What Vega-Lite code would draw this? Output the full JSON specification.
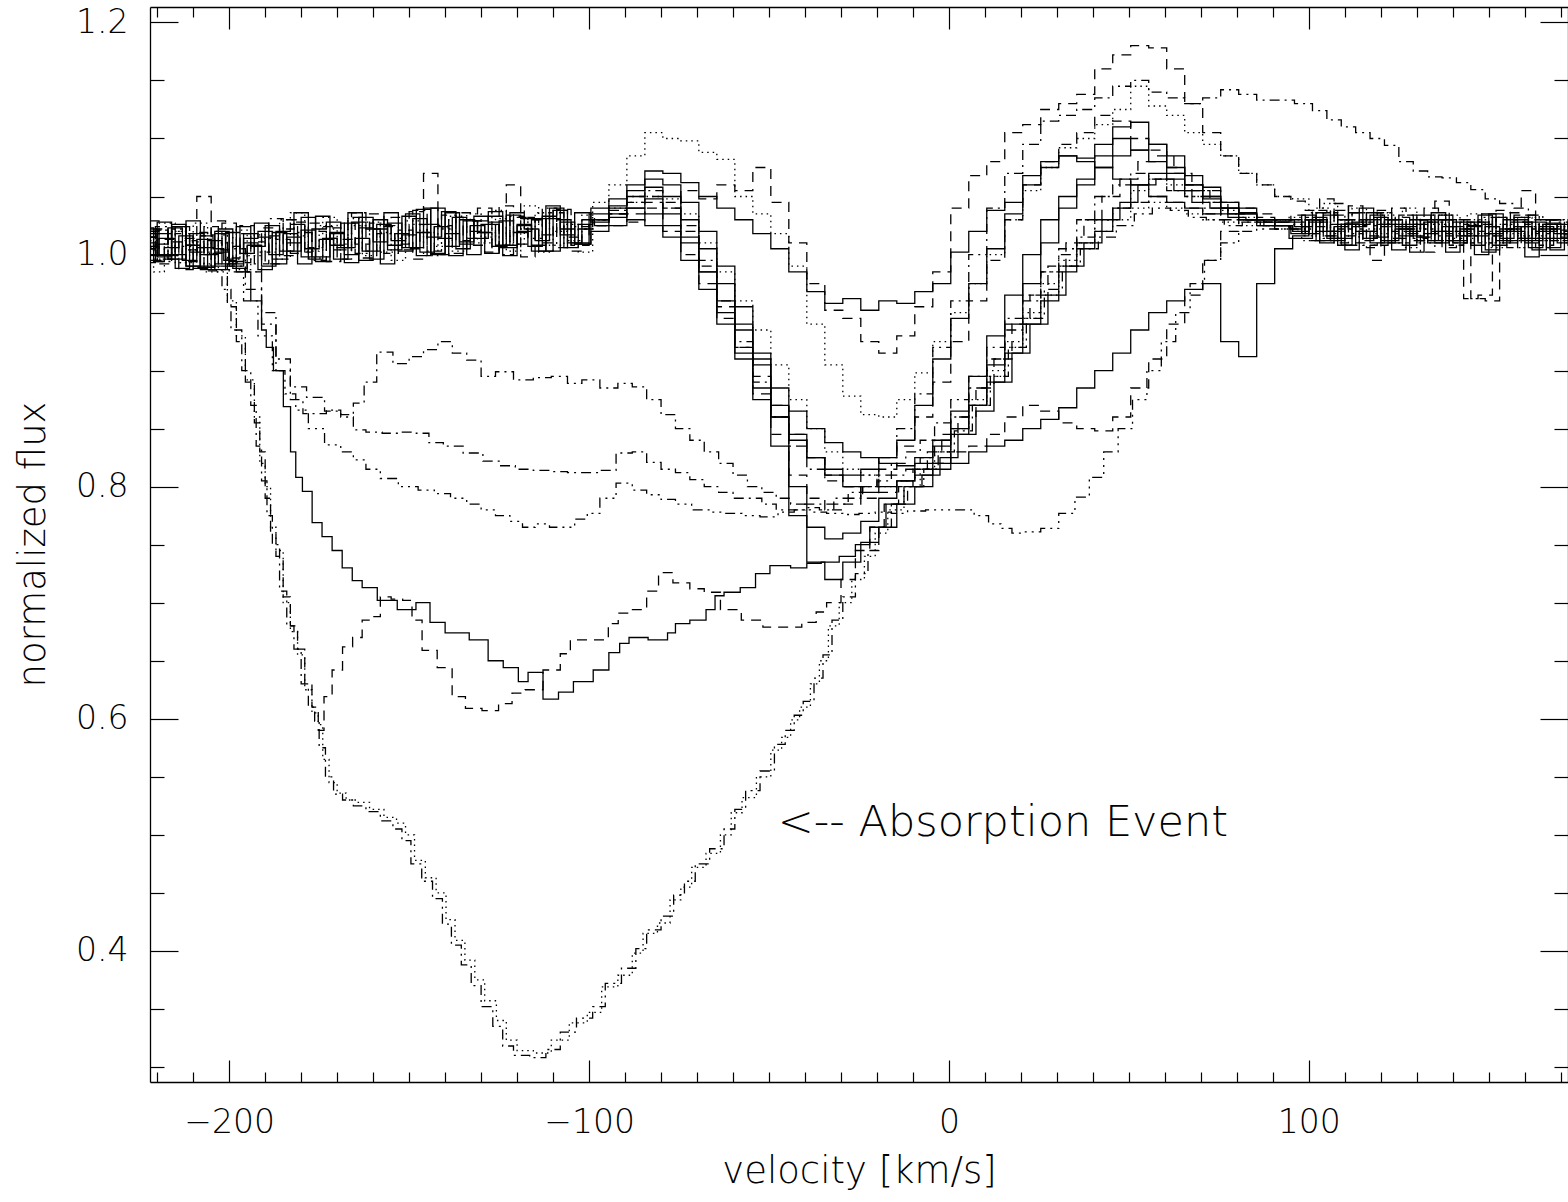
{
"$schema":"https://vega.github.io/schema/vega-lite/v6.json",
"width":1418,"height":1075,
"autosize":{"type":"none"},
"padding":{"left":150,"top":7,"right":0,"bottom":120},
"background":"#ffffff",
"config":{"view":{"stroke":null},
"axis":{"labelFont":"DejaVu Sans","labelFontWeight":200,"labelFontSize":33,"labelColor":"#000000","titleFont":"DejaVu Sans","titleFontWeight":200,"titleFontSize":37,"titleColor":"#000000","tickColor":"#000000","tickWidth":1.2,"domainColor":"#000000","domainWidth":1.3,"grid":false,"labelFlush":false,"labelOverlap":false,"labelBound":false}},
"datasets":{"spec":[
{"s":"p1","v":-222,"f":1.022},{"s":"p1","v":-218,"f":1.000},{"s":"p1","v":-214,"f":1.026},{"s":"p1","v":-210,"f":0.990},{"s":"p1","v":-206,"f":1.006},{"s":"p1","v":-202,"f":1.018},{"s":"p1","v":-198,"f":0.990},{"s":"p1","v":-194,"f":1.010},{"s":"p1","v":-190,"f":0.987},{"s":"p1","v":-186,"f":1.019},{"s":"p1","v":-182,"f":1.003},{"s":"p1","v":-178,"f":1.032},{"s":"p1","v":-174,"f":0.998},{"s":"p1","v":-170,"f":1.018},{"s":"p1","v":-166,"f":0.993},{"s":"p1","v":-162,"f":1.023},{"s":"p1","v":-158,"f":1.030},{"s":"p1","v":-154,"f":1.008},{"s":"p1","v":-150,"f":1.017},{"s":"p1","v":-146,"f":0.999},{"s":"p1","v":-142,"f":1.040},{"s":"p1","v":-138,"f":1.007},{"s":"p1","v":-134,"f":1.030},{"s":"p1","v":-130,"f":1.014},{"s":"p1","v":-126,"f":1.037},{"s":"p1","v":-122,"f":1.006},{"s":"p1","v":-118,"f":1.026},{"s":"p1","v":-114,"f":1.003},{"s":"p1","v":-110,"f":1.031},{"s":"p1","v":-106,"f":1.022},{"s":"p1","v":-102,"f":1.009},
{"s":"p1","v":-97,"f":1.040},{"s":"p1","v":-92,"f":1.048},{"s":"p1","v":-87,"f":1.060},{"s":"p1","v":-82,"f":1.072},{"s":"p1","v":-77,"f":1.070},{"s":"p1","v":-72,"f":1.062},{"s":"p1","v":-67,"f":1.050},{"s":"p1","v":-62,"f":1.040},{"s":"p1","v":-57,"f":1.030},{"s":"p1","v":-52,"f":1.018},{"s":"p1","v":-47,"f":1.005},{"s":"p1","v":-42,"f":0.985},{"s":"p1","v":-37,"f":0.968},{"s":"p1","v":-32,"f":0.958},{"s":"p1","v":-27,"f":0.962},{"s":"p1","v":-22,"f":0.952},{"s":"p1","v":-17,"f":0.960},{"s":"p1","v":-12,"f":0.958},{"s":"p1","v":-7,"f":0.968},{"s":"p1","v":-2,"f":0.975},{"s":"p1","v":3,"f":1.002},{"s":"p1","v":8,"f":1.020},{"s":"p1","v":13,"f":1.038},{"s":"p1","v":18,"f":1.045},{"s":"p1","v":23,"f":1.068},{"s":"p1","v":28,"f":1.080},{"s":"p1","v":33,"f":1.085},{"s":"p1","v":38,"f":1.083},{"s":"p1","v":43,"f":1.095},{"s":"p1","v":48,"f":1.110},{"s":"p1","v":53,"f":1.114},{"s":"p1","v":58,"f":1.095},{"s":"p1","v":63,"f":1.085},{"s":"p1","v":68,"f":1.068},{"s":"p1","v":73,"f":1.058},{"s":"p1","v":78,"f":1.045},{"s":"p1","v":83,"f":1.036},{"s":"p1","v":88,"f":1.030},{"s":"p1","v":93,"f":1.028},
{"s":"p1","v":96,"f":1.030},{"s":"p1","v":100,"f":1.018},{"s":"p1","v":104,"f":1.036},{"s":"p1","v":108,"f":1.012},{"s":"p1","v":112,"f":1.027},{"s":"p1","v":116,"f":1.040},{"s":"p1","v":120,"f":1.015},{"s":"p1","v":124,"f":1.030},{"s":"p1","v":128,"f":1.008},{"s":"p1","v":132,"f":1.034},{"s":"p1","v":136,"f":1.020},{"s":"p1","v":140,"f":1.002},{"s":"p1","v":144,"f":1.028},{"s":"p1","v":148,"f":1.016},{"s":"p1","v":152,"f":1.035},{"s":"p1","v":156,"f":1.010},{"s":"p1","v":160,"f":1.024},{"s":"p1","v":164,"f":1.004},{"s":"p1","v":168,"f":1.027},{"s":"p1","v":172,"f":1.015},{"s":"p1","v":176,"f":1.020},
{"s":"p2","v":-222,"f":1.023},{"s":"p2","v":-220,"f":0.995},{"s":"p2","v":-216,"f":1.013},{"s":"p2","v":-212,"f":0.987},{"s":"p2","v":-208,"f":1.019},{"s":"p2","v":-204,"f":1.001},{"s":"p2","v":-200,"f":1.027},{"s":"p2","v":-196,"f":0.993},{"s":"p2","v":-192,"f":1.011},{"s":"p2","v":-188,"f":0.992},{"s":"p2","v":-184,"f":1.022},{"s":"p2","v":-180,"f":1.028},{"s":"p2","v":-176,"f":1.006},{"s":"p2","v":-172,"f":1.014},{"s":"p2","v":-168,"f":0.996},{"s":"p2","v":-164,"f":1.036},{"s":"p2","v":-160,"f":1.003},{"s":"p2","v":-156,"f":1.025},{"s":"p2","v":-152,"f":1.009},{"s":"p2","v":-148,"f":1.037},{"s":"p2","v":-144,"f":1.070},{"s":"p2","v":-140,"f":1.025},{"s":"p2","v":-136,"f":1.001},{"s":"p2","v":-132,"f":1.029},{"s":"p2","v":-128,"f":1.019},{"s":"p2","v":-124,"f":1.007},{"s":"p2","v":-120,"f":1.033},{"s":"p2","v":-116,"f":1.030},{"s":"p2","v":-112,"f":1.010},{"s":"p2","v":-108,"f":1.038},{"s":"p2","v":-104,"f":1.003},{"s":"p2","v":-100,"f":1.022},
{"s":"p2","v":-97,"f":1.025},{"s":"p2","v":-92,"f":1.035},{"s":"p2","v":-87,"f":1.028},{"s":"p2","v":-82,"f":1.045},{"s":"p2","v":-77,"f":1.040},{"s":"p2","v":-72,"f":1.055},{"s":"p2","v":-67,"f":1.048},{"s":"p2","v":-62,"f":1.060},{"s":"p2","v":-57,"f":1.055},{"s":"p2","v":-52,"f":1.075},{"s":"p2","v":-47,"f":1.045},{"s":"p2","v":-42,"f":1.010},{"s":"p2","v":-37,"f":0.975},{"s":"p2","v":-32,"f":0.952},{"s":"p2","v":-27,"f":0.945},{"s":"p2","v":-22,"f":0.925},{"s":"p2","v":-17,"f":0.915},{"s":"p2","v":-12,"f":0.930},{"s":"p2","v":-7,"f":0.955},{"s":"p2","v":-2,"f":0.985},{"s":"p2","v":3,"f":1.040},{"s":"p2","v":8,"f":1.068},{"s":"p2","v":13,"f":1.080},{"s":"p2","v":18,"f":1.105},{"s":"p2","v":23,"f":1.112},{"s":"p2","v":28,"f":1.125},{"s":"p2","v":33,"f":1.130},{"s":"p2","v":38,"f":1.138},{"s":"p2","v":43,"f":1.160},{"s":"p2","v":48,"f":1.172},{"s":"p2","v":53,"f":1.180},{"s":"p2","v":58,"f":1.178},{"s":"p2","v":63,"f":1.160},{"s":"p2","v":68,"f":1.130},{"s":"p2","v":73,"f":1.105},{"s":"p2","v":78,"f":1.085},{"s":"p2","v":83,"f":1.070},{"s":"p2","v":88,"f":1.060},{"s":"p2","v":93,"f":1.050},
{"s":"p2","v":97,"f":1.046},{"s":"p2","v":101,"f":1.038},{"s":"p2","v":105,"f":1.048},{"s":"p2","v":109,"f":1.030},{"s":"p2","v":113,"f":1.042},{"s":"p2","v":117,"f":1.025},{"s":"p2","v":121,"f":1.038},{"s":"p2","v":125,"f":1.020},{"s":"p2","v":129,"f":1.034},{"s":"p2","v":133,"f":1.015},{"s":"p2","v":137,"f":1.030},{"s":"p2","v":141,"f":1.008},{"s":"p2","v":145,"f":0.962},{"s":"p2","v":149,"f":0.965},{"s":"p2","v":153,"f":1.032},{"s":"p2","v":157,"f":1.012},{"s":"p2","v":161,"f":1.028},{"s":"p2","v":165,"f":1.006},{"s":"p2","v":169,"f":1.022},{"s":"p2","v":173,"f":1.017},{"s":"p2","v":177,"f":1.020},
{"s":"p3","v":-222,"f":1.006},{"s":"p3","v":-217,"f":1.027},{"s":"p3","v":-213,"f":0.993},{"s":"p3","v":-209,"f":1.011},{"s":"p3","v":-205,"f":0.985},{"s":"p3","v":-201,"f":1.010},{"s":"p3","v":-197,"f":1.021},{"s":"p3","v":-193,"f":0.999},{"s":"p3","v":-189,"f":1.014},{"s":"p3","v":-185,"f":0.996},{"s":"p3","v":-181,"f":1.036},{"s":"p3","v":-177,"f":1.003},{"s":"p3","v":-173,"f":1.025},{"s":"p3","v":-169,"f":1.009},{"s":"p3","v":-165,"f":1.031},{"s":"p3","v":-161,"f":0.999},{"s":"p3","v":-157,"f":1.019},{"s":"p3","v":-153,"f":0.995},{"s":"p3","v":-149,"f":1.029},{"s":"p3","v":-145,"f":1.019},{"s":"p3","v":-141,"f":1.007},{"s":"p3","v":-137,"f":1.033},{"s":"p3","v":-133,"f":1.030},{"s":"p3","v":-129,"f":1.010},{"s":"p3","v":-125,"f":1.038},{"s":"p3","v":-121,"f":1.003},{"s":"p3","v":-117,"f":1.022},{"s":"p3","v":-113,"f":1.036},{"s":"p3","v":-109,"f":1.008},{"s":"p3","v":-105,"f":1.026},{"s":"p3","v":-101,"f":1.002},
{"s":"p3","v":-97,"f":1.045},{"s":"p3","v":-92,"f":1.060},{"s":"p3","v":-87,"f":1.085},{"s":"p3","v":-82,"f":1.105},{"s":"p3","v":-77,"f":1.100},{"s":"p3","v":-72,"f":1.098},{"s":"p3","v":-67,"f":1.088},{"s":"p3","v":-62,"f":1.082},{"s":"p3","v":-57,"f":1.050},{"s":"p3","v":-52,"f":1.035},{"s":"p3","v":-47,"f":1.018},{"s":"p3","v":-42,"f":0.990},{"s":"p3","v":-37,"f":0.940},{"s":"p3","v":-32,"f":0.905},{"s":"p3","v":-27,"f":0.878},{"s":"p3","v":-22,"f":0.862},{"s":"p3","v":-17,"f":0.860},{"s":"p3","v":-12,"f":0.875},{"s":"p3","v":-7,"f":0.898},{"s":"p3","v":-2,"f":0.925},{"s":"p3","v":3,"f":0.950},{"s":"p3","v":8,"f":0.975},{"s":"p3","v":13,"f":1.000},{"s":"p3","v":18,"f":1.030},{"s":"p3","v":23,"f":1.055},{"s":"p3","v":28,"f":1.075},{"s":"p3","v":33,"f":1.092},{"s":"p3","v":38,"f":1.100},{"s":"p3","v":43,"f":1.112},{"s":"p3","v":48,"f":1.125},{"s":"p3","v":53,"f":1.145},{"s":"p3","v":58,"f":1.128},{"s":"p3","v":63,"f":1.120},{"s":"p3","v":68,"f":1.105},{"s":"p3","v":73,"f":1.095},{"s":"p3","v":78,"f":1.085},{"s":"p3","v":83,"f":1.070},{"s":"p3","v":88,"f":1.060},{"s":"p3","v":93,"f":1.050},
{"s":"p3","v":98,"f":1.048},{"s":"p3","v":102,"f":1.036},{"s":"p3","v":106,"f":1.044},{"s":"p3","v":110,"f":1.030},{"s":"p3","v":114,"f":1.040},{"s":"p3","v":118,"f":1.022},{"s":"p3","v":122,"f":1.034},{"s":"p3","v":126,"f":1.018},{"s":"p3","v":130,"f":1.030},{"s":"p3","v":134,"f":1.012},{"s":"p3","v":138,"f":1.028},{"s":"p3","v":142,"f":1.020},{"s":"p3","v":146,"f":1.035},{"s":"p3","v":150,"f":1.010},{"s":"p3","v":154,"f":1.026},{"s":"p3","v":158,"f":1.018},{"s":"p3","v":162,"f":1.032},{"s":"p3","v":166,"f":1.012},{"s":"p3","v":170,"f":1.024},{"s":"p3","v":174,"f":1.016},{"s":"p3","v":178,"f":1.020},
{"s":"p4","v":-222,"f":1.015},{"s":"p4","v":-219,"f":1.021},{"s":"p4","v":-215,"f":0.999},{"s":"p4","v":-211,"f":1.007},{"s":"p4","v":-207,"f":0.989},{"s":"p4","v":-203,"f":1.029},{"s":"p4","v":-199,"f":0.996},{"s":"p4","v":-195,"f":1.018},{"s":"p4","v":-191,"f":1.002},{"s":"p4","v":-187,"f":1.031},{"s":"p4","v":-183,"f":0.999},{"s":"p4","v":-179,"f":1.019},{"s":"p4","v":-175,"f":0.995},{"s":"p4","v":-171,"f":1.023},{"s":"p4","v":-167,"f":1.013},{"s":"p4","v":-163,"f":1.001},{"s":"p4","v":-159,"f":1.027},{"s":"p4","v":-155,"f":1.024},{"s":"p4","v":-151,"f":1.004},{"s":"p4","v":-147,"f":1.038},{"s":"p4","v":-143,"f":1.003},{"s":"p4","v":-139,"f":1.022},{"s":"p4","v":-135,"f":1.036},{"s":"p4","v":-131,"f":1.008},{"s":"p4","v":-127,"f":1.026},{"s":"p4","v":-123,"f":1.000},{"s":"p4","v":-119,"f":1.032},{"s":"p4","v":-115,"f":1.014},{"s":"p4","v":-111,"f":1.040},{"s":"p4","v":-107,"f":1.006},{"s":"p4","v":-103,"f":1.024},
{"s":"p4","v":-97,"f":1.030},{"s":"p4","v":-92,"f":1.038},{"s":"p4","v":-87,"f":1.050},{"s":"p4","v":-82,"f":1.055},{"s":"p4","v":-77,"f":1.045},{"s":"p4","v":-72,"f":1.025},{"s":"p4","v":-67,"f":0.995},{"s":"p4","v":-62,"f":0.960},{"s":"p4","v":-57,"f":0.925},{"s":"p4","v":-52,"f":0.890},{"s":"p4","v":-47,"f":0.860},{"s":"p4","v":-42,"f":0.835},{"s":"p4","v":-37,"f":0.815},{"s":"p4","v":-32,"f":0.805},{"s":"p4","v":-27,"f":0.800},{"s":"p4","v":-22,"f":0.810},{"s":"p4","v":-17,"f":0.825},{"s":"p4","v":-12,"f":0.850},{"s":"p4","v":-7,"f":0.880},{"s":"p4","v":-2,"f":0.920},{"s":"p4","v":3,"f":0.960},{"s":"p4","v":8,"f":1.000},{"s":"p4","v":13,"f":1.040},{"s":"p4","v":18,"f":1.070},{"s":"p4","v":23,"f":1.095},{"s":"p4","v":28,"f":1.115},{"s":"p4","v":33,"f":1.120},{"s":"p4","v":38,"f":1.125},{"s":"p4","v":43,"f":1.135},{"s":"p4","v":48,"f":1.145},{"s":"p4","v":53,"f":1.150},{"s":"p4","v":58,"f":1.140},{"s":"p4","v":63,"f":1.135},{"s":"p4","v":68,"f":1.130},{"s":"p4","v":73,"f":1.135},{"s":"p4","v":78,"f":1.142},{"s":"p4","v":83,"f":1.138},{"s":"p4","v":88,"f":1.133},{"s":"p4","v":93,"f":1.133},
{"s":"p4","v":99,"f":1.130},{"s":"p4","v":103,"f":1.124},{"s":"p4","v":107,"f":1.116},{"s":"p4","v":111,"f":1.110},{"s":"p4","v":115,"f":1.105},{"s":"p4","v":119,"f":1.100},{"s":"p4","v":123,"f":1.094},{"s":"p4","v":127,"f":1.080},{"s":"p4","v":131,"f":1.072},{"s":"p4","v":135,"f":1.067},{"s":"p4","v":139,"f":1.066},{"s":"p4","v":143,"f":1.062},{"s":"p4","v":147,"f":1.056},{"s":"p4","v":151,"f":1.048},{"s":"p4","v":155,"f":1.044},{"s":"p4","v":159,"f":1.040},{"s":"p4","v":163,"f":1.034},{"s":"p4","v":167,"f":1.030},{"s":"p4","v":171,"f":1.028},{"s":"p4","v":175,"f":1.025},
{"s":"p5","v":-222,"f":1.020},{"s":"p5","v":-220,"f":0.994},{"s":"p5","v":-216,"f":1.006},{"s":"p5","v":-212,"f":1.016},{"s":"p5","v":-208,"f":0.988},{"s":"p5","v":-204,"f":1.012},{"s":"p5","v":-200,"f":0.992},{"s":"p5","v":-196,"f":1.024},{"s":"p5","v":-192,"f":1.007},{"s":"p5","v":-188,"f":1.025},{"s":"p5","v":-184,"f":1.003},{"s":"p5","v":-180,"f":1.036},{"s":"p5","v":-176,"f":0.996},{"s":"p5","v":-172,"f":1.014},{"s":"p5","v":-168,"f":1.006},{"s":"p5","v":-164,"f":1.028},{"s":"p5","v":-160,"f":1.022},{"s":"p5","v":-156,"f":0.992},{"s":"p5","v":-152,"f":1.018},{"s":"p5","v":-148,"f":1.006},{"s":"p5","v":-144,"f":1.040},{"s":"p5","v":-140,"f":1.014},{"s":"p5","v":-136,"f":1.032},{"s":"p5","v":-132,"f":1.000},{"s":"p5","v":-128,"f":1.026},{"s":"p5","v":-124,"f":1.008},{"s":"p5","v":-120,"f":1.036},{"s":"p5","v":-116,"f":1.022},{"s":"p5","v":-112,"f":1.003},{"s":"p5","v":-108,"f":1.038},{"s":"p5","v":-104,"f":1.010},{"s":"p5","v":-100,"f":1.030},
{"s":"p5","v":-97,"f":1.025},{"s":"p5","v":-92,"f":1.032},{"s":"p5","v":-87,"f":1.040},{"s":"p5","v":-82,"f":1.048},{"s":"p5","v":-77,"f":1.035},{"s":"p5","v":-72,"f":1.015},{"s":"p5","v":-67,"f":0.985},{"s":"p5","v":-62,"f":0.950},{"s":"p5","v":-57,"f":0.915},{"s":"p5","v":-52,"f":0.875},{"s":"p5","v":-47,"f":0.835},{"s":"p5","v":-42,"f":0.775},{"s":"p5","v":-37,"f":0.735},{"s":"p5","v":-32,"f":0.720},{"s":"p5","v":-27,"f":0.735},{"s":"p5","v":-22,"f":0.752},{"s":"p5","v":-17,"f":0.765},{"s":"p5","v":-12,"f":0.785},{"s":"p5","v":-7,"f":0.800},{"s":"p5","v":-2,"f":0.820},{"s":"p5","v":3,"f":0.845},{"s":"p5","v":8,"f":0.870},{"s":"p5","v":13,"f":0.905},{"s":"p5","v":18,"f":0.940},{"s":"p5","v":23,"f":0.975},{"s":"p5","v":28,"f":1.010},{"s":"p5","v":33,"f":1.040},{"s":"p5","v":38,"f":1.060},{"s":"p5","v":43,"f":1.085},{"s":"p5","v":48,"f":1.100},{"s":"p5","v":53,"f":1.090},{"s":"p5","v":58,"f":1.095},{"s":"p5","v":63,"f":1.075},{"s":"p5","v":68,"f":1.060},{"s":"p5","v":73,"f":1.050},{"s":"p5","v":78,"f":1.035},{"s":"p5","v":83,"f":1.040},{"s":"p5","v":88,"f":1.030},{"s":"p5","v":93,"f":1.025},
{"s":"p5","v":96,"f":1.022},{"s":"p5","v":100,"f":1.034},{"s":"p5","v":104,"f":1.012},{"s":"p5","v":108,"f":1.026},{"s":"p5","v":112,"f":1.004},{"s":"p5","v":116,"f":1.020},{"s":"p5","v":120,"f":1.032},{"s":"p5","v":124,"f":1.010},{"s":"p5","v":128,"f":1.026},{"s":"p5","v":132,"f":1.015},{"s":"p5","v":136,"f":1.036},{"s":"p5","v":140,"f":1.012},{"s":"p5","v":144,"f":1.022},{"s":"p5","v":148,"f":1.000},{"s":"p5","v":152,"f":1.018},{"s":"p5","v":156,"f":1.030},{"s":"p5","v":160,"f":1.014},{"s":"p5","v":164,"f":1.028},{"s":"p5","v":168,"f":1.006},{"s":"p5","v":172,"f":1.021},{"s":"p5","v":176,"f":1.018},
{"s":"p6","v":-222,"f":0.995},{"s":"p6","v":-219,"f":1.009},{"s":"p6","v":-215,"f":1.023},{"s":"p6","v":-211,"f":0.995},{"s":"p6","v":-207,"f":1.013},{"s":"p6","v":-203,"f":0.987},{"s":"p6","v":-199,"f":1.019},{"s":"p6","v":-195,"f":1.001},{"s":"p6","v":-191,"f":1.027},{"s":"p6","v":-187,"f":1.000},{"s":"p6","v":-183,"f":1.018},{"s":"p6","v":-179,"f":0.992},{"s":"p6","v":-175,"f":1.022},{"s":"p6","v":-171,"f":1.028},{"s":"p6","v":-167,"f":1.006},{"s":"p6","v":-163,"f":1.014},{"s":"p6","v":-159,"f":0.996},{"s":"p6","v":-155,"f":1.036},{"s":"p6","v":-151,"f":1.003},{"s":"p6","v":-147,"f":1.031},{"s":"p6","v":-143,"f":1.015},{"s":"p6","v":-139,"f":1.037},{"s":"p6","v":-135,"f":1.005},{"s":"p6","v":-131,"f":1.025},{"s":"p6","v":-127,"f":1.001},{"s":"p6","v":-123,"f":1.029},{"s":"p6","v":-119,"f":1.019},{"s":"p6","v":-115,"f":1.007},{"s":"p6","v":-111,"f":1.033},{"s":"p6","v":-107,"f":1.030},{"s":"p6","v":-103,"f":1.010},
{"s":"p6","v":-97,"f":1.035},{"s":"p6","v":-92,"f":1.042},{"s":"p6","v":-87,"f":1.055},{"s":"p6","v":-82,"f":1.065},{"s":"p6","v":-77,"f":1.060},{"s":"p6","v":-72,"f":1.045},{"s":"p6","v":-67,"f":1.020},{"s":"p6","v":-62,"f":0.990},{"s":"p6","v":-57,"f":0.955},{"s":"p6","v":-52,"f":0.915},{"s":"p6","v":-47,"f":0.860},{"s":"p6","v":-42,"f":0.800},{"s":"p6","v":-37,"f":0.765},{"s":"p6","v":-32,"f":0.755},{"s":"p6","v":-27,"f":0.760},{"s":"p6","v":-22,"f":0.770},{"s":"p6","v":-17,"f":0.790},{"s":"p6","v":-12,"f":0.805},{"s":"p6","v":-7,"f":0.820},{"s":"p6","v":-2,"f":0.835},{"s":"p6","v":3,"f":0.850},{"s":"p6","v":8,"f":0.870},{"s":"p6","v":13,"f":0.890},{"s":"p6","v":18,"f":0.915},{"s":"p6","v":23,"f":0.940},{"s":"p6","v":28,"f":0.960},{"s":"p6","v":33,"f":0.985},{"s":"p6","v":38,"f":1.005},{"s":"p6","v":43,"f":1.020},{"s":"p6","v":48,"f":1.040},{"s":"p6","v":53,"f":1.060},{"s":"p6","v":58,"f":1.070},{"s":"p6","v":63,"f":1.065},{"s":"p6","v":68,"f":1.055},{"s":"p6","v":73,"f":1.050},{"s":"p6","v":78,"f":1.040},{"s":"p6","v":83,"f":1.035},{"s":"p6","v":88,"f":1.028},{"s":"p6","v":93,"f":1.025},
{"s":"p6","v":97,"f":1.018},{"s":"p6","v":101,"f":1.030},{"s":"p6","v":105,"f":1.010},{"s":"p6","v":109,"f":1.024},{"s":"p6","v":113,"f":1.036},{"s":"p6","v":117,"f":1.014},{"s":"p6","v":121,"f":1.026},{"s":"p6","v":125,"f":1.004},{"s":"p6","v":129,"f":1.020},{"s":"p6","v":133,"f":1.030},{"s":"p6","v":137,"f":1.010},{"s":"p6","v":141,"f":1.024},{"s":"p6","v":145,"f":1.016},{"s":"p6","v":149,"f":1.034},{"s":"p6","v":153,"f":1.008},{"s":"p6","v":157,"f":1.022},{"s":"p6","v":161,"f":1.012},{"s":"p6","v":165,"f":1.030},{"s":"p6","v":169,"f":1.004},{"s":"p6","v":173,"f":1.020},{"s":"p6","v":177,"f":1.016},
{"s":"p7","v":-222,"f":1.007},{"s":"p7","v":-218,"f":1.018},{"s":"p7","v":-214,"f":0.996},{"s":"p7","v":-210,"f":1.029},{"s":"p7","v":-206,"f":0.989},{"s":"p7","v":-202,"f":1.002},{"s":"p7","v":-198,"f":0.994},{"s":"p7","v":-194,"f":1.018},{"s":"p7","v":-190,"f":1.015},{"s":"p7","v":-186,"f":0.992},{"s":"p7","v":-182,"f":1.015},{"s":"p7","v":-178,"f":0.998},{"s":"p7","v":-174,"f":1.033},{"s":"p7","v":-170,"f":1.008},{"s":"p7","v":-166,"f":1.027},{"s":"p7","v":-162,"f":0.995},{"s":"p7","v":-158,"f":1.022},{"s":"p7","v":-154,"f":1.004},{"s":"p7","v":-150,"f":1.033},{"s":"p7","v":-146,"f":1.019},{"s":"p7","v":-142,"f":1.001},{"s":"p7","v":-138,"f":1.036},{"s":"p7","v":-134,"f":1.009},{"s":"p7","v":-130,"f":1.029},{"s":"p7","v":-126,"f":1.033},{"s":"p7","v":-122,"f":1.008},{"s":"p7","v":-118,"f":1.020},{"s":"p7","v":-114,"f":1.031},{"s":"p7","v":-110,"f":1.003},{"s":"p7","v":-106,"f":1.028},{"s":"p7","v":-102,"f":1.009},
{"s":"p7","v":-97,"f":1.020},{"s":"p7","v":-92,"f":1.025},{"s":"p7","v":-87,"f":1.030},{"s":"p7","v":-82,"f":1.025},{"s":"p7","v":-77,"f":1.015},{"s":"p7","v":-72,"f":0.995},{"s":"p7","v":-67,"f":0.970},{"s":"p7","v":-62,"f":0.940},{"s":"p7","v":-57,"f":0.910},{"s":"p7","v":-52,"f":0.885},{"s":"p7","v":-47,"f":0.860},{"s":"p7","v":-42,"f":0.840},{"s":"p7","v":-37,"f":0.825},{"s":"p7","v":-32,"f":0.810},{"s":"p7","v":-27,"f":0.800},{"s":"p7","v":-22,"f":0.795},{"s":"p7","v":-17,"f":0.800},{"s":"p7","v":-12,"f":0.805},{"s":"p7","v":-7,"f":0.810},{"s":"p7","v":-2,"f":0.815},{"s":"p7","v":3,"f":0.820},{"s":"p7","v":8,"f":0.830},{"s":"p7","v":13,"f":0.835},{"s":"p7","v":18,"f":0.840},{"s":"p7","v":23,"f":0.850},{"s":"p7","v":28,"f":0.858},{"s":"p7","v":33,"f":0.868},{"s":"p7","v":38,"f":0.885},{"s":"p7","v":43,"f":0.900},{"s":"p7","v":48,"f":0.915},{"s":"p7","v":53,"f":0.935},{"s":"p7","v":58,"f":0.950},{"s":"p7","v":63,"f":0.960},{"s":"p7","v":68,"f":0.970},{"s":"p7","v":73,"f":0.975},{"s":"p7","v":78,"f":0.925},{"s":"p7","v":83,"f":0.912},{"s":"p7","v":88,"f":0.975},{"s":"p7","v":93,"f":1.005},
{"s":"p7","v":98,"f":1.016},{"s":"p7","v":102,"f":1.030},{"s":"p7","v":106,"f":1.020},{"s":"p7","v":110,"f":1.008},{"s":"p7","v":114,"f":1.028},{"s":"p7","v":118,"f":1.036},{"s":"p7","v":122,"f":1.012},{"s":"p7","v":126,"f":1.024},{"s":"p7","v":130,"f":1.002},{"s":"p7","v":134,"f":1.018},{"s":"p7","v":138,"f":1.030},{"s":"p7","v":142,"f":1.010},{"s":"p7","v":146,"f":1.025},{"s":"p7","v":150,"f":1.035},{"s":"p7","v":154,"f":1.012},{"s":"p7","v":158,"f":1.020},{"s":"p7","v":162,"f":0.998},{"s":"p7","v":166,"f":1.024},{"s":"p7","v":170,"f":1.014},{"s":"p7","v":174,"f":1.028},{"s":"p7","v":178,"f":1.018},
{"s":"p8","v":-222,"f":1.029},{"s":"p8","v":-217,"f":0.996},{"s":"p8","v":-213,"f":1.018},{"s":"p8","v":-209,"f":1.002},{"s":"p8","v":-205,"f":1.024},{"s":"p8","v":-201,"f":0.987},{"s":"p8","v":-197,"f":1.007},{"s":"p8","v":-193,"f":0.985},{"s":"p8","v":-189,"f":1.023},{"s":"p8","v":-185,"f":1.013},{"s":"p8","v":-181,"f":1.001},{"s":"p8","v":-177,"f":1.027},{"s":"p8","v":-173,"f":1.024},{"s":"p8","v":-169,"f":1.004},{"s":"p8","v":-165,"f":1.032},{"s":"p8","v":-161,"f":0.997},{"s":"p8","v":-157,"f":1.018},{"s":"p8","v":-153,"f":1.032},{"s":"p8","v":-149,"f":1.005},{"s":"p8","v":-145,"f":1.026},{"s":"p8","v":-141,"f":1.000},{"s":"p8","v":-137,"f":1.032},{"s":"p8","v":-133,"f":1.014},{"s":"p8","v":-129,"f":1.040},{"s":"p8","v":-125,"f":1.006},{"s":"p8","v":-121,"f":1.060},{"s":"p8","v":-117,"f":0.998},{"s":"p8","v":-113,"f":1.030},{"s":"p8","v":-109,"f":1.036},{"s":"p8","v":-105,"f":1.015},{"s":"p8","v":-101,"f":1.022},
{"s":"p8","v":-97,"f":1.030},{"s":"p8","v":-92,"f":1.025},{"s":"p8","v":-87,"f":1.035},{"s":"p8","v":-82,"f":1.040},{"s":"p8","v":-77,"f":1.020},{"s":"p8","v":-72,"f":1.000},{"s":"p8","v":-67,"f":0.975},{"s":"p8","v":-62,"f":0.945},{"s":"p8","v":-57,"f":0.920},{"s":"p8","v":-52,"f":0.895},{"s":"p8","v":-47,"f":0.870},{"s":"p8","v":-42,"f":0.845},{"s":"p8","v":-37,"f":0.825},{"s":"p8","v":-32,"f":0.810},{"s":"p8","v":-27,"f":0.800},{"s":"p8","v":-22,"f":0.790},{"s":"p8","v":-17,"f":0.795},{"s":"p8","v":-12,"f":0.805},{"s":"p8","v":-7,"f":0.815},{"s":"p8","v":-2,"f":0.820},{"s":"p8","v":3,"f":0.830},{"s":"p8","v":8,"f":0.835},{"s":"p8","v":13,"f":0.845},{"s":"p8","v":18,"f":0.860},{"s":"p8","v":23,"f":0.870},{"s":"p8","v":28,"f":0.865},{"s":"p8","v":33,"f":0.855},{"s":"p8","v":38,"f":0.850},{"s":"p8","v":43,"f":0.848},{"s":"p8","v":48,"f":0.860},{"s":"p8","v":53,"f":0.885},{"s":"p8","v":58,"f":0.910},{"s":"p8","v":63,"f":0.940},{"s":"p8","v":68,"f":0.965},{"s":"p8","v":73,"f":0.995},{"s":"p8","v":78,"f":1.020},{"s":"p8","v":83,"f":1.030},{"s":"p8","v":88,"f":1.035},{"s":"p8","v":93,"f":1.030},
{"s":"p8","v":99,"f":1.024},{"s":"p8","v":103,"f":1.038},{"s":"p8","v":107,"f":1.016},{"s":"p8","v":111,"f":1.030},{"s":"p8","v":115,"f":1.010},{"s":"p8","v":119,"f":0.995},{"s":"p8","v":123,"f":1.026},{"s":"p8","v":127,"f":1.034},{"s":"p8","v":131,"f":1.014},{"s":"p8","v":135,"f":1.028},{"s":"p8","v":139,"f":1.006},{"s":"p8","v":143,"f":1.022},{"s":"p8","v":147,"f":0.962},{"s":"p8","v":151,"f":0.960},{"s":"p8","v":155,"f":1.020},{"s":"p8","v":159,"f":1.034},{"s":"p8","v":163,"f":1.012},{"s":"p8","v":167,"f":1.026},{"s":"p8","v":171,"f":1.018},{"s":"p8","v":175,"f":1.022},
{"s":"p9","v":-222,"f":1.020},{"s":"p9","v":-220,"f":0.985},{"s":"p9","v":-216,"f":1.011},{"s":"p9","v":-212,"f":0.993},{"s":"p9","v":-208,"f":1.027},{"s":"p9","v":-204,"f":1.001},{"s":"p9","v":-200,"f":1.019},{"s":"p9","v":-196,"f":0.987},{"s":"p9","v":-192,"f":1.017},{"s":"p9","v":-188,"f":1.002},{"s":"p9","v":-184,"f":1.030},{"s":"p9","v":-180,"f":1.016},{"s":"p9","v":-176,"f":0.997},{"s":"p9","v":-172,"f":1.032},{"s":"p9","v":-168,"f":1.004},{"s":"p9","v":-164,"f":1.025},{"s":"p9","v":-160,"f":1.028},{"s":"p9","v":-156,"f":1.002},{"s":"p9","v":-152,"f":1.014},{"s":"p9","v":-148,"f":1.026},{"s":"p9","v":-144,"f":0.999},{"s":"p9","v":-140,"f":1.023},{"s":"p9","v":-136,"f":1.003},{"s":"p9","v":-132,"f":1.035},{"s":"p9","v":-128,"f":1.015},{"s":"p9","v":-124,"f":1.031},{"s":"p9","v":-120,"f":1.009},{"s":"p9","v":-116,"f":1.042},{"s":"p9","v":-112,"f":1.002},{"s":"p9","v":-108,"f":1.020},{"s":"p9","v":-104,"f":1.012},{"s":"p9","v":-100,"f":1.034},
{"s":"p9","v":-97,"f":1.030},{"s":"p9","v":-92,"f":1.040},{"s":"p9","v":-87,"f":1.045},{"s":"p9","v":-82,"f":1.050},{"s":"p9","v":-77,"f":1.048},{"s":"p9","v":-72,"f":1.035},{"s":"p9","v":-67,"f":1.010},{"s":"p9","v":-62,"f":0.985},{"s":"p9","v":-57,"f":0.960},{"s":"p9","v":-52,"f":0.935},{"s":"p9","v":-47,"f":0.905},{"s":"p9","v":-42,"f":0.875},{"s":"p9","v":-37,"f":0.850},{"s":"p9","v":-32,"f":0.830},{"s":"p9","v":-27,"f":0.815},{"s":"p9","v":-22,"f":0.810},{"s":"p9","v":-17,"f":0.800},{"s":"p9","v":-12,"f":0.805},{"s":"p9","v":-7,"f":0.815},{"s":"p9","v":-2,"f":0.830},{"s":"p9","v":3,"f":0.850},{"s":"p9","v":8,"f":0.870},{"s":"p9","v":13,"f":0.895},{"s":"p9","v":18,"f":0.920},{"s":"p9","v":23,"f":0.945},{"s":"p9","v":28,"f":0.965},{"s":"p9","v":33,"f":0.990},{"s":"p9","v":38,"f":1.010},{"s":"p9","v":43,"f":1.030},{"s":"p9","v":48,"f":1.040},{"s":"p9","v":53,"f":1.055},{"s":"p9","v":58,"f":1.065},{"s":"p9","v":63,"f":1.060},{"s":"p9","v":68,"f":1.050},{"s":"p9","v":73,"f":1.045},{"s":"p9","v":78,"f":1.038},{"s":"p9","v":83,"f":1.032},{"s":"p9","v":88,"f":1.028},{"s":"p9","v":93,"f":1.030},
{"s":"p9","v":96,"f":1.032},{"s":"p9","v":100,"f":1.022},{"s":"p9","v":104,"f":1.040},{"s":"p9","v":108,"f":1.018},{"s":"p9","v":112,"f":1.030},{"s":"p9","v":116,"f":1.014},{"s":"p9","v":120,"f":1.036},{"s":"p9","v":124,"f":1.024},{"s":"p9","v":128,"f":1.040},{"s":"p9","v":132,"f":1.010},{"s":"p9","v":136,"f":1.026},{"s":"p9","v":140,"f":1.034},{"s":"p9","v":144,"f":1.014},{"s":"p9","v":148,"f":1.028},{"s":"p9","v":152,"f":1.006},{"s":"p9","v":156,"f":1.022},{"s":"p9","v":160,"f":1.032},{"s":"p9","v":164,"f":1.016},{"s":"p9","v":168,"f":1.026},{"s":"p9","v":172,"f":1.010},{"s":"p9","v":176,"f":1.020},
{"s":"p10","v":-222,"f":0.993},{"s":"p10","v":-219,"f":1.021},{"s":"p10","v":-215,"f":1.011},{"s":"p10","v":-211,"f":0.994},{"s":"p10","v":-207,"f":1.050},{"s":"p10","v":-203,"f":1.017},{"s":"p10","v":-199,"f":0.997},{"s":"p10","v":-195,"f":1.025},{"s":"p10","v":-191,"f":0.992},{"s":"p10","v":-187,"f":1.016},{"s":"p10","v":-183,"f":1.030},{"s":"p10","v":-179,"f":1.002},{"s":"p10","v":-175,"f":1.020},{"s":"p10","v":-171,"f":0.994},{"s":"p10","v":-167,"f":1.027},{"s":"p10","v":-163,"f":1.009},{"s":"p10","v":-159,"f":1.035},{"s":"p10","v":-155,"f":1.001},{"s":"p10","v":-151,"f":1.021},{"s":"p10","v":-147,"f":0.996},{"s":"p10","v":-143,"f":1.026},{"s":"p10","v":-139,"f":1.034},{"s":"p10","v":-135,"f":1.012},{"s":"p10","v":-131,"f":1.020},{"s":"p10","v":-127,"f":1.002},{"s":"p10","v":-123,"f":1.042},{"s":"p10","v":-119,"f":1.009},{"s":"p10","v":-115,"f":1.032},{"s":"p10","v":-111,"f":1.017},{"s":"p10","v":-107,"f":1.039},{"s":"p10","v":-103,"f":1.008},
{"s":"p10","v":-97,"f":1.025},{"s":"p10","v":-92,"f":1.035},{"s":"p10","v":-87,"f":1.045},{"s":"p10","v":-82,"f":1.050},{"s":"p10","v":-77,"f":1.040},{"s":"p10","v":-72,"f":1.020},{"s":"p10","v":-67,"f":0.990},{"s":"p10","v":-62,"f":0.955},{"s":"p10","v":-57,"f":0.920},{"s":"p10","v":-52,"f":0.880},{"s":"p10","v":-47,"f":0.845},{"s":"p10","v":-42,"f":0.810},{"s":"p10","v":-37,"f":0.790},{"s":"p10","v":-32,"f":0.780},{"s":"p10","v":-27,"f":0.785},{"s":"p10","v":-22,"f":0.800},{"s":"p10","v":-17,"f":0.815},{"s":"p10","v":-12,"f":0.835},{"s":"p10","v":-7,"f":0.860},{"s":"p10","v":-2,"f":0.890},{"s":"p10","v":3,"f":0.925},{"s":"p10","v":8,"f":0.960},{"s":"p10","v":13,"f":0.995},{"s":"p10","v":18,"f":1.030},{"s":"p10","v":23,"f":1.060},{"s":"p10","v":28,"f":1.080},{"s":"p10","v":33,"f":1.095},{"s":"p10","v":38,"f":1.105},{"s":"p10","v":43,"f":1.120},{"s":"p10","v":48,"f":1.115},{"s":"p10","v":53,"f":1.100},{"s":"p10","v":58,"f":1.090},{"s":"p10","v":63,"f":1.075},{"s":"p10","v":68,"f":1.060},{"s":"p10","v":73,"f":1.055},{"s":"p10","v":78,"f":1.045},{"s":"p10","v":83,"f":1.040},{"s":"p10","v":88,"f":1.032},{"s":"p10","v":93,"f":1.030},
{"s":"p10","v":97,"f":1.034},{"s":"p10","v":101,"f":1.018},{"s":"p10","v":105,"f":1.028},{"s":"p10","v":109,"f":1.044},{"s":"p10","v":113,"f":1.022},{"s":"p10","v":117,"f":1.012},{"s":"p10","v":121,"f":1.032},{"s":"p10","v":125,"f":1.040},{"s":"p10","v":129,"f":1.018},{"s":"p10","v":133,"f":1.026},{"s":"p10","v":137,"f":1.046},{"s":"p10","v":141,"f":1.016},{"s":"p10","v":145,"f":1.030},{"s":"p10","v":149,"f":1.010},{"s":"p10","v":153,"f":1.024},{"s":"p10","v":157,"f":1.036},{"s":"p10","v":161,"f":1.055},{"s":"p10","v":165,"f":1.018},{"s":"p10","v":169,"f":1.030},{"s":"p10","v":173,"f":1.012},{"s":"p10","v":177,"f":1.025},
{"s":"p11","v":-222,"f":1.018},{"s":"p11","v":-218,"f":0.998},{"s":"p11","v":-214,"f":1.024},{"s":"p11","v":-210,"f":1.008},{"s":"p11","v":-206,"f":0.987},{"s":"p11","v":-202,"f":1.020},{"s":"p11","v":-198,"f":0.992},{"s":"p11","v":-194,"f":1.014},{"s":"p11","v":-190,"f":1.020},{"s":"p11","v":-186,"f":0.996},{"s":"p11","v":-182,"f":1.010},{"s":"p11","v":-178,"f":1.021},{"s":"p11","v":-174,"f":0.994},{"s":"p11","v":-170,"f":1.019},{"s":"p11","v":-166,"f":1.000},{"s":"p11","v":-162,"f":1.032},{"s":"p11","v":-158,"f":1.011},{"s":"p11","v":-154,"f":1.027},{"s":"p11","v":-150,"f":1.006},{"s":"p11","v":-146,"f":1.039},{"s":"p11","v":-142,"f":1.000},{"s":"p11","v":-138,"f":1.018},{"s":"p11","v":-134,"f":1.011},{"s":"p11","v":-130,"f":1.033},{"s":"p11","v":-126,"f":1.028},{"s":"p11","v":-122,"f":0.999},{"s":"p11","v":-118,"f":1.025},{"s":"p11","v":-114,"f":1.008},{"s":"p11","v":-110,"f":1.042},{"s":"p11","v":-106,"f":1.017},{"s":"p11","v":-102,"f":1.036},
{"s":"p11","v":-97,"f":1.028},{"s":"p11","v":-92,"f":1.035},{"s":"p11","v":-87,"f":1.040},{"s":"p11","v":-82,"f":1.035},{"s":"p11","v":-77,"f":1.025},{"s":"p11","v":-72,"f":1.010},{"s":"p11","v":-67,"f":0.985},{"s":"p11","v":-62,"f":0.960},{"s":"p11","v":-57,"f":0.935},{"s":"p11","v":-52,"f":0.910},{"s":"p11","v":-47,"f":0.885},{"s":"p11","v":-42,"f":0.865},{"s":"p11","v":-37,"f":0.850},{"s":"p11","v":-32,"f":0.838},{"s":"p11","v":-27,"f":0.830},{"s":"p11","v":-22,"f":0.825},{"s":"p11","v":-17,"f":0.820},{"s":"p11","v":-12,"f":0.818},{"s":"p11","v":-7,"f":0.825},{"s":"p11","v":-2,"f":0.840},{"s":"p11","v":3,"f":0.865},{"s":"p11","v":8,"f":0.895},{"s":"p11","v":13,"f":0.930},{"s":"p11","v":18,"f":0.965},{"s":"p11","v":23,"f":1.000},{"s":"p11","v":28,"f":1.030},{"s":"p11","v":33,"f":1.050},{"s":"p11","v":38,"f":1.065},{"s":"p11","v":43,"f":1.075},{"s":"p11","v":48,"f":1.085},{"s":"p11","v":53,"f":1.090},{"s":"p11","v":58,"f":1.080},{"s":"p11","v":63,"f":1.070},{"s":"p11","v":68,"f":1.060},{"s":"p11","v":73,"f":1.048},{"s":"p11","v":78,"f":1.040},{"s":"p11","v":83,"f":1.035},{"s":"p11","v":88,"f":1.030},{"s":"p11","v":93,"f":1.025},
{"s":"p11","v":98,"f":1.020},{"s":"p11","v":102,"f":1.028},{"s":"p11","v":106,"f":1.034},{"s":"p11","v":110,"f":1.014},{"s":"p11","v":114,"f":1.024},{"s":"p11","v":118,"f":1.030},{"s":"p11","v":122,"f":1.010},{"s":"p11","v":126,"f":1.022},{"s":"p11","v":130,"f":1.016},{"s":"p11","v":134,"f":1.028},{"s":"p11","v":138,"f":1.034},{"s":"p11","v":142,"f":1.012},{"s":"p11","v":146,"f":1.024},{"s":"p11","v":150,"f":1.002},{"s":"p11","v":154,"f":1.020},{"s":"p11","v":158,"f":1.028},{"s":"p11","v":162,"f":1.010},{"s":"p11","v":166,"f":1.022},{"s":"p11","v":170,"f":1.018},{"s":"p11","v":174,"f":1.008},{"s":"p11","v":178,"f":1.020},
{"s":"p12","v":-222,"f":1.000},{"s":"p12","v":-217,"f":1.014},{"s":"p12","v":-213,"f":0.988},{"s":"p12","v":-209,"f":1.018},{"s":"p12","v":-205,"f":1.000},{"s":"p12","v":-201,"f":1.022},{"s":"p12","v":-197,"f":0.988},{"s":"p12","v":-193,"f":1.008},{"s":"p12","v":-189,"f":0.990},{"s":"p12","v":-185,"f":1.020},{"s":"p12","v":-181,"f":1.026},{"s":"p12","v":-177,"f":1.005},{"s":"p12","v":-173,"f":1.013},{"s":"p12","v":-169,"f":0.996},{"s":"p12","v":-165,"f":1.036},{"s":"p12","v":-161,"f":1.003},{"s":"p12","v":-157,"f":1.026},{"s":"p12","v":-153,"f":1.012},{"s":"p12","v":-149,"f":1.035},{"s":"p12","v":-145,"f":1.002},{"s":"p12","v":-141,"f":1.024},{"s":"p12","v":-137,"f":0.999},{"s":"p12","v":-133,"f":1.029},{"s":"p12","v":-129,"f":1.019},{"s":"p12","v":-125,"f":1.007},{"s":"p12","v":-121,"f":1.034},{"s":"p12","v":-117,"f":1.031},{"s":"p12","v":-113,"f":1.012},{"s":"p12","v":-109,"f":1.040},{"s":"p12","v":-105,"f":1.006},{"s":"p12","v":-101,"f":1.026},
{"s":"p12","v":-97,"f":1.030},{"s":"p12","v":-92,"f":1.040},{"s":"p12","v":-87,"f":1.050},{"s":"p12","v":-82,"f":1.058},{"s":"p12","v":-77,"f":1.050},{"s":"p12","v":-72,"f":1.030},{"s":"p12","v":-67,"f":1.005},{"s":"p12","v":-62,"f":0.975},{"s":"p12","v":-57,"f":0.940},{"s":"p12","v":-52,"f":0.905},{"s":"p12","v":-47,"f":0.870},{"s":"p12","v":-42,"f":0.845},{"s":"p12","v":-37,"f":0.825},{"s":"p12","v":-32,"f":0.815},{"s":"p12","v":-27,"f":0.810},{"s":"p12","v":-22,"f":0.815},{"s":"p12","v":-17,"f":0.825},{"s":"p12","v":-12,"f":0.840},{"s":"p12","v":-7,"f":0.870},{"s":"p12","v":-2,"f":0.910},{"s":"p12","v":3,"f":0.945},{"s":"p12","v":8,"f":0.975},{"s":"p12","v":13,"f":1.005},{"s":"p12","v":18,"f":1.035},{"s":"p12","v":23,"f":1.060},{"s":"p12","v":28,"f":1.075},{"s":"p12","v":33,"f":1.085},{"s":"p12","v":38,"f":1.080},{"s":"p12","v":43,"f":1.075},{"s":"p12","v":48,"f":1.065},{"s":"p12","v":53,"f":1.060},{"s":"p12","v":58,"f":1.050},{"s":"p12","v":63,"f":1.045},{"s":"p12","v":68,"f":1.040},{"s":"p12","v":73,"f":1.035},{"s":"p12","v":78,"f":1.040},{"s":"p12","v":83,"f":1.030},{"s":"p12","v":88,"f":1.025},{"s":"p12","v":93,"f":1.028},
{"s":"p12","v":99,"f":1.024},{"s":"p12","v":103,"f":1.032},{"s":"p12","v":107,"f":1.014},{"s":"p12","v":111,"f":1.026},{"s":"p12","v":115,"f":1.020},{"s":"p12","v":119,"f":1.010},{"s":"p12","v":123,"f":1.030},{"s":"p12","v":127,"f":1.016},{"s":"p12","v":131,"f":1.026},{"s":"p12","v":135,"f":1.012},{"s":"p12","v":139,"f":1.030},{"s":"p12","v":143,"f":1.020},{"s":"p12","v":147,"f":1.008},{"s":"p12","v":151,"f":1.024},{"s":"p12","v":155,"f":1.014},{"s":"p12","v":159,"f":1.032},{"s":"p12","v":163,"f":1.006},{"s":"p12","v":167,"f":1.020},{"s":"p12","v":171,"f":1.026},{"s":"p12","v":175,"f":1.016},
{"s":"d1","v":-222,"f":1.012},{"s":"d1","v":-218,"f":0.996},{"s":"d1","v":-214,"f":1.020},{"s":"d1","v":-210,"f":1.004},{"s":"d1","v":-206,"f":0.992},{"s":"d1","v":-202,"f":0.985},{"s":"d1","v":-199,"f":0.960},{"s":"d1","v":-197,"f":0.930},{"s":"d1","v":-194,"f":0.892},{"s":"d1","v":-192,"f":0.860},{"s":"d1","v":-191,"f":0.820},{"s":"d1","v":-189,"f":0.800},{"s":"d1","v":-188,"f":0.765},{"s":"d1","v":-186,"f":0.745},{"s":"d1","v":-184,"f":0.700},{"s":"d1","v":-182,"f":0.675},{"s":"d1","v":-180,"f":0.655},{"s":"d1","v":-178,"f":0.625},{"s":"d1","v":-176,"f":0.605},{"s":"d1","v":-174.5,"f":0.595},{"s":"d1","v":-173.5,"f":0.565},{"s":"d1","v":-171,"f":0.545},{"s":"d1","v":-169,"f":0.536},{"s":"d1","v":-166,"f":0.530},{"s":"d1","v":-163,"f":0.528},{"s":"d1","v":-159,"f":0.522},{"s":"d1","v":-155,"f":0.515},{"s":"d1","v":-152,"f":0.510},{"s":"d1","v":-150,"f":0.500},{"s":"d1","v":-147,"f":0.478},{"s":"d1","v":-144,"f":0.463},{"s":"d1","v":-141,"f":0.450},{"s":"d1","v":-138.5,"f":0.427},{"s":"d1","v":-136,"f":0.409},{"s":"d1","v":-133,"f":0.392},{"s":"d1","v":-130.5,"f":0.375},{"s":"d1","v":-127.5,"f":0.357},{"s":"d1","v":-124,"f":0.340},{"s":"d1","v":-122,"f":0.323},{"s":"d1","v":-118,"f":0.314},{"s":"d1","v":-113,"f":0.312},{"s":"d1","v":-108,"f":0.323},{"s":"d1","v":-103,"f":0.338},{"s":"d1","v":-98,"f":0.347},{"s":"d1","v":-95,"f":0.369},{"s":"d1","v":-89,"f":0.379},{"s":"d1","v":-87,"f":0.398},{"s":"d1","v":-83,"f":0.415},{"s":"d1","v":-79,"f":0.424},{"s":"d1","v":-76,"f":0.444},{"s":"d1","v":-73,"f":0.455},{"s":"d1","v":-70,"f":0.472},{"s":"d1","v":-65,"f":0.484},{"s":"d1","v":-62,"f":0.500},{"s":"d1","v":-59,"f":0.519},{"s":"d1","v":-56,"f":0.532},{"s":"d1","v":-51,"f":0.550},{"s":"d1","v":-48,"f":0.573},{"s":"d1","v":-45,"f":0.584},{"s":"d1","v":-43,"f":0.599},{"s":"d1","v":-40,"f":0.610},{"s":"d1","v":-37,"f":0.630},{"s":"d1","v":-35,"f":0.650},{"s":"d1","v":-32,"f":0.680},{"s":"d1","v":-29,"f":0.700},{"s":"d1","v":-25,"f":0.720},{"s":"d1","v":-22,"f":0.740},{"s":"d1","v":-19,"f":0.760},{"s":"d1","v":-15,"f":0.780},{"s":"d1","v":-10,"f":0.800},{"s":"d1","v":-6,"f":0.815},{"s":"d1","v":-2,"f":0.830},{"s":"d1","v":3,"f":0.850},{"s":"d1","v":8,"f":0.875},{"s":"d1","v":13,"f":0.900},{"s":"d1","v":18,"f":0.925},{"s":"d1","v":23,"f":0.950},{"s":"d1","v":28,"f":0.975},{"s":"d1","v":33,"f":0.995},{"s":"d1","v":38,"f":1.010},{"s":"d1","v":43,"f":1.020},{"s":"d1","v":48,"f":1.030},{"s":"d1","v":53,"f":1.040},{"s":"d1","v":58,"f":1.045},{"s":"d1","v":63,"f":1.040},{"s":"d1","v":68,"f":1.035},{"s":"d1","v":73,"f":1.030},{"s":"d1","v":78,"f":1.028},{"s":"d1","v":83,"f":1.025},{"s":"d1","v":88,"f":1.025},{"s":"d1","v":93,"f":1.022},
{"s":"d1","v":96,"f":1.024},{"s":"d1","v":100,"f":1.012},{"s":"d1","v":104,"f":1.030},{"s":"d1","v":108,"f":1.020},{"s":"d1","v":112,"f":1.008},{"s":"d1","v":116,"f":1.026},{"s":"d1","v":120,"f":1.018},{"s":"d1","v":124,"f":1.030},{"s":"d1","v":128,"f":1.006},{"s":"d1","v":132,"f":1.022},{"s":"d1","v":136,"f":1.034},{"s":"d1","v":140,"f":1.014},{"s":"d1","v":144,"f":1.020},{"s":"d1","v":148,"f":1.030},{"s":"d1","v":152,"f":1.010},{"s":"d1","v":156,"f":1.022},{"s":"d1","v":160,"f":1.016},{"s":"d1","v":164,"f":1.030},{"s":"d1","v":168,"f":1.012},{"s":"d1","v":172,"f":1.020},{"s":"d1","v":176,"f":1.018},
{"s":"d2","v":-222,"f":1.005},{"s":"d2","v":-219,"f":1.022},{"s":"d2","v":-215,"f":0.996},{"s":"d2","v":-211,"f":1.012},{"s":"d2","v":-207,"f":1.000},{"s":"d2","v":-203,"f":0.990},{"s":"d2","v":-201,"f":0.970},{"s":"d2","v":-198,"f":0.935},{"s":"d2","v":-195,"f":0.900},{"s":"d2","v":-193,"f":0.870},{"s":"d2","v":-192,"f":0.835},{"s":"d2","v":-190,"f":0.805},{"s":"d2","v":-189,"f":0.775},{"s":"d2","v":-187,"f":0.750},{"s":"d2","v":-185,"f":0.710},{"s":"d2","v":-183,"f":0.680},{"s":"d2","v":-181,"f":0.660},{"s":"d2","v":-179,"f":0.630},{"s":"d2","v":-177,"f":0.610},{"s":"d2","v":-175.5,"f":0.598},{"s":"d2","v":-174.5,"f":0.575},{"s":"d2","v":-172,"f":0.550},{"s":"d2","v":-170,"f":0.535},{"s":"d2","v":-167,"f":0.530},{"s":"d2","v":-164,"f":0.525},{"s":"d2","v":-160,"f":0.520},{"s":"d2","v":-156,"f":0.512},{"s":"d2","v":-153,"f":0.505},{"s":"d2","v":-151,"f":0.495},{"s":"d2","v":-148,"f":0.475},{"s":"d2","v":-145,"f":0.460},{"s":"d2","v":-142,"f":0.445},{"s":"d2","v":-139.5,"f":0.423},{"s":"d2","v":-137,"f":0.405},{"s":"d2","v":-134,"f":0.388},{"s":"d2","v":-131.5,"f":0.370},{"s":"d2","v":-128.5,"f":0.352},{"s":"d2","v":-125,"f":0.335},{"s":"d2","v":-123,"f":0.318},{"s":"d2","v":-119,"f":0.310},{"s":"d2","v":-114,"f":0.308},{"s":"d2","v":-110,"f":0.315},{"s":"d2","v":-106,"f":0.330},{"s":"d2","v":-101,"f":0.342},{"s":"d2","v":-97,"f":0.352},{"s":"d2","v":-94,"f":0.372},{"s":"d2","v":-88,"f":0.385},{"s":"d2","v":-86,"f":0.402},{"s":"d2","v":-82,"f":0.418},{"s":"d2","v":-78,"f":0.430},{"s":"d2","v":-75,"f":0.448},{"s":"d2","v":-72,"f":0.460},{"s":"d2","v":-69,"f":0.475},{"s":"d2","v":-64,"f":0.488},{"s":"d2","v":-61,"f":0.505},{"s":"d2","v":-58,"f":0.522},{"s":"d2","v":-55,"f":0.538},{"s":"d2","v":-50,"f":0.555},{"s":"d2","v":-47,"f":0.578},{"s":"d2","v":-44,"f":0.590},{"s":"d2","v":-42,"f":0.603},{"s":"d2","v":-39,"f":0.615},{"s":"d2","v":-36,"f":0.635},{"s":"d2","v":-34,"f":0.655},{"s":"d2","v":-31,"f":0.685},{"s":"d2","v":-28,"f":0.705},{"s":"d2","v":-24,"f":0.725},{"s":"d2","v":-21,"f":0.745},{"s":"d2","v":-18,"f":0.765},{"s":"d2","v":-14,"f":0.785},{"s":"d2","v":-9,"f":0.800},{"s":"d2","v":-5,"f":0.815},{"s":"d2","v":-1,"f":0.830},{"s":"d2","v":4,"f":0.848},{"s":"d2","v":9,"f":0.870},{"s":"d2","v":14,"f":0.895},{"s":"d2","v":19,"f":0.920},{"s":"d2","v":24,"f":0.945},{"s":"d2","v":29,"f":0.970},{"s":"d2","v":34,"f":0.990},{"s":"d2","v":39,"f":1.005},{"s":"d2","v":44,"f":1.015},{"s":"d2","v":49,"f":1.025},{"s":"d2","v":54,"f":1.035},{"s":"d2","v":59,"f":1.040},{"s":"d2","v":64,"f":1.038},{"s":"d2","v":69,"f":1.032},{"s":"d2","v":74,"f":1.030},{"s":"d2","v":79,"f":1.025},{"s":"d2","v":84,"f":1.028},{"s":"d2","v":89,"f":1.022},{"s":"d2","v":94,"f":1.025},
{"s":"d2","v":97,"f":1.020},{"s":"d2","v":101,"f":1.030},{"s":"d2","v":105,"f":1.012},{"s":"d2","v":109,"f":1.034},{"s":"d2","v":113,"f":1.018},{"s":"d2","v":117,"f":1.008},{"s":"d2","v":121,"f":1.028},{"s":"d2","v":125,"f":1.014},{"s":"d2","v":129,"f":1.024},{"s":"d2","v":133,"f":1.002},{"s":"d2","v":137,"f":1.020},{"s":"d2","v":141,"f":1.030},{"s":"d2","v":145,"f":1.010},{"s":"d2","v":149,"f":1.026},{"s":"d2","v":153,"f":1.016},{"s":"d2","v":157,"f":1.006},{"s":"d2","v":161,"f":1.028},{"s":"d2","v":165,"f":1.020},{"s":"d2","v":169,"f":1.012},{"s":"d2","v":173,"f":1.024},{"s":"d2","v":177,"f":1.020},
{"s":"c3","v":-222,"f":1.020},{"s":"c3","v":-217,"f":1.000},{"s":"c3","v":-213,"f":1.024},{"s":"c3","v":-209,"f":1.006},{"s":"c3","v":-205,"f":0.986},{"s":"c3","v":-202,"f":0.990},{"s":"c3","v":-199,"f":0.955},{"s":"c3","v":-197,"f":0.925},{"s":"c3","v":-194,"f":0.890},{"s":"c3","v":-192,"f":0.855},{"s":"c3","v":-191,"f":0.830},{"s":"c3","v":-189,"f":0.790},{"s":"c3","v":-188,"f":0.760},{"s":"c3","v":-186,"f":0.740},{"s":"c3","v":-184,"f":0.705},{"s":"c3","v":-182,"f":0.680},{"s":"c3","v":-180,"f":0.660},{"s":"c3","v":-178,"f":0.630},{"s":"c3","v":-176,"f":0.610},{"s":"c3","v":-174.5,"f":0.590},{"s":"c3","v":-172.8,"f":0.619},{"s":"c3","v":-170,"f":0.642},{"s":"c3","v":-167,"f":0.662},{"s":"c3","v":-164.4,"f":0.670},{"s":"c3","v":-161.7,"f":0.685},{"s":"c3","v":-159,"f":0.688},{"s":"c3","v":-157,"f":0.705},{"s":"c3","v":-153,"f":0.703},{"s":"c3","v":-150.6,"f":0.702},{"s":"c3","v":-147.8,"f":0.685},{"s":"c3","v":-145,"f":0.659},{"s":"c3","v":-139.4,"f":0.644},{"s":"c3","v":-136.7,"f":0.619},{"s":"c3","v":-132,"f":0.609},{"s":"c3","v":-127.5,"f":0.607},{"s":"c3","v":-122.8,"f":0.613},{"s":"c3","v":-120,"f":0.622},{"s":"c3","v":-115.6,"f":0.625},{"s":"c3","v":-110,"f":0.642},{"s":"c3","v":-106,"f":0.656},{"s":"c3","v":-104.4,"f":0.668},{"s":"c3","v":-96,"f":0.668},{"s":"c3","v":-93.3,"f":0.682},{"s":"c3","v":-90.5,"f":0.691},{"s":"c3","v":-86,"f":0.694},{"s":"c3","v":-82,"f":0.710},{"s":"c3","v":-79.4,"f":0.726},{"s":"c3","v":-74,"f":0.717},{"s":"c3","v":-70,"f":0.712},{"s":"c3","v":-66,"f":0.709},{"s":"c3","v":-61,"f":0.694},{"s":"c3","v":-54.4,"f":0.685},{"s":"c3","v":-49,"f":0.679},{"s":"c3","v":-44,"f":0.679},{"s":"c3","v":-37.8,"f":0.683},{"s":"c3","v":-36,"f":0.692},{"s":"c3","v":-32,"f":0.700},{"s":"c3","v":-28,"f":0.720},{"s":"c3","v":-24,"f":0.745},{"s":"c3","v":-20,"f":0.765},{"s":"c3","v":-16,"f":0.785},{"s":"c3","v":-12,"f":0.800},{"s":"c3","v":-8,"f":0.815},{"s":"c3","v":-4,"f":0.830},{"s":"c3","v":0,"f":0.845},{"s":"c3","v":5,"f":0.860},{"s":"c3","v":10,"f":0.885},{"s":"c3","v":15,"f":0.910},{"s":"c3","v":20,"f":0.940},{"s":"c3","v":25,"f":0.965},{"s":"c3","v":30,"f":0.990},{"s":"c3","v":35,"f":1.010},{"s":"c3","v":40,"f":1.030},{"s":"c3","v":45,"f":1.050},{"s":"c3","v":50,"f":1.065},{"s":"c3","v":55,"f":1.080},{"s":"c3","v":60,"f":1.085},{"s":"c3","v":65,"f":1.070},{"s":"c3","v":70,"f":1.055},{"s":"c3","v":75,"f":1.045},{"s":"c3","v":80,"f":1.035},{"s":"c3","v":85,"f":1.030},{"s":"c3","v":90,"f":1.028},
{"s":"c3","v":98,"f":1.028},{"s":"c3","v":102,"f":1.012},{"s":"c3","v":106,"f":1.036},{"s":"c3","v":110,"f":1.022},{"s":"c3","v":114,"f":1.030},{"s":"c3","v":118,"f":1.006},{"s":"c3","v":122,"f":1.024},{"s":"c3","v":126,"f":1.032},{"s":"c3","v":130,"f":1.012},{"s":"c3","v":134,"f":1.040},{"s":"c3","v":138,"f":1.020},{"s":"c3","v":142,"f":1.010},{"s":"c3","v":146,"f":1.028},{"s":"c3","v":150,"f":1.018},{"s":"c3","v":154,"f":1.038},{"s":"c3","v":158,"f":1.014},{"s":"c3","v":162,"f":1.026},{"s":"c3","v":166,"f":1.008},{"s":"c3","v":170,"f":1.022},{"s":"c3","v":174,"f":1.030},{"s":"c3","v":178,"f":1.020},
{"s":"c2","v":-222,"f":1.015},{"s":"c2","v":-218,"f":1.028},{"s":"c2","v":-214,"f":1.000},{"s":"c2","v":-210,"f":0.990},{"s":"c2","v":-206,"f":1.016},{"s":"c2","v":-203,"f":1.005},{"s":"c2","v":-200,"f":0.995},{"s":"c2","v":-196,"f":0.985},{"s":"c2","v":-192,"f":0.960},{"s":"c2","v":-190,"f":0.935},{"s":"c2","v":-189.4,"f":0.920},{"s":"c2","v":-186,"f":0.900},{"s":"c2","v":-183.9,"f":0.869},{"s":"c2","v":-182,"f":0.830},{"s":"c2","v":-181,"f":0.808},{"s":"c2","v":-178.3,"f":0.796},{"s":"c2","v":-175.6,"f":0.769},{"s":"c2","v":-172.8,"f":0.757},{"s":"c2","v":-170,"f":0.745},{"s":"c2","v":-167.2,"f":0.730},{"s":"c2","v":-164.4,"f":0.719},{"s":"c2","v":-161.7,"f":0.713},{"s":"c2","v":-156,"f":0.702},{"s":"c2","v":-150.6,"f":0.694},{"s":"c2","v":-145.6,"f":0.700},{"s":"c2","v":-142.8,"f":0.683},{"s":"c2","v":-137.2,"f":0.674},{"s":"c2","v":-129.4,"f":0.668},{"s":"c2","v":-126.7,"f":0.650},{"s":"c2","v":-121,"f":0.644},{"s":"c2","v":-118.3,"f":0.632},{"s":"c2","v":-115.6,"f":0.640},{"s":"c2","v":-110,"f":0.617},{"s":"c2","v":-107,"f":0.623},{"s":"c2","v":-101.7,"f":0.632},{"s":"c2","v":-96,"f":0.642},{"s":"c2","v":-93,"f":0.657},{"s":"c2","v":-90,"f":0.665},{"s":"c2","v":-87.8,"f":0.670},{"s":"c2","v":-79.4,"f":0.668},{"s":"c2","v":-77,"f":0.674},{"s":"c2","v":-75,"f":0.682},{"s":"c2","v":-69,"f":0.685},{"s":"c2","v":-66,"f":0.694},{"s":"c2","v":-64,"f":0.706},{"s":"c2","v":-61,"f":0.709},{"s":"c2","v":-55,"f":0.713},{"s":"c2","v":-52.5,"f":0.725},{"s":"c2","v":-47,"f":0.732},{"s":"c2","v":-41,"f":0.730},{"s":"c2","v":-38,"f":0.734},{"s":"c2","v":-33,"f":0.735},{"s":"c2","v":-28,"f":0.740},{"s":"c2","v":-24,"f":0.750},{"s":"c2","v":-20,"f":0.765},{"s":"c2","v":-15,"f":0.785},{"s":"c2","v":-10,"f":0.800},{"s":"c2","v":-5,"f":0.810},{"s":"c2","v":0,"f":0.825},{"s":"c2","v":5,"f":0.845},{"s":"c2","v":10,"f":0.865},{"s":"c2","v":15,"f":0.890},{"s":"c2","v":20,"f":0.915},{"s":"c2","v":25,"f":0.940},{"s":"c2","v":30,"f":0.965},{"s":"c2","v":35,"f":0.990},{"s":"c2","v":40,"f":1.010},{"s":"c2","v":45,"f":1.030},{"s":"c2","v":50,"f":1.045},{"s":"c2","v":55,"f":1.060},{"s":"c2","v":60,"f":1.065},{"s":"c2","v":65,"f":1.055},{"s":"c2","v":70,"f":1.045},{"s":"c2","v":75,"f":1.040},{"s":"c2","v":80,"f":1.032},{"s":"c2","v":85,"f":1.030},{"s":"c2","v":90,"f":1.025},
{"s":"c2","v":99,"f":1.014},{"s":"c2","v":103,"f":1.030},{"s":"c2","v":107,"f":1.020},{"s":"c2","v":111,"f":1.008},{"s":"c2","v":115,"f":1.026},{"s":"c2","v":119,"f":1.034},{"s":"c2","v":123,"f":1.012},{"s":"c2","v":127,"f":1.022},{"s":"c2","v":131,"f":1.030},{"s":"c2","v":135,"f":1.010},{"s":"c2","v":139,"f":1.024},{"s":"c2","v":143,"f":1.016},{"s":"c2","v":147,"f":1.028},{"s":"c2","v":151,"f":1.004},{"s":"c2","v":155,"f":1.022},{"s":"c2","v":159,"f":1.030},{"s":"c2","v":163,"f":1.014},{"s":"c2","v":167,"f":1.026},{"s":"c2","v":171,"f":1.010},{"s":"c2","v":175,"f":1.020},
{"s":"e1","v":-222,"f":1.015},{"s":"e1","v":-218,"f":0.992},{"s":"e1","v":-214,"f":1.020},{"s":"e1","v":-210,"f":1.008},{"s":"e1","v":-206,"f":0.990},{"s":"e1","v":-202,"f":1.004},{"s":"e1","v":-198,"f":0.985},{"s":"e1","v":-194,"f":0.960},{"s":"e1","v":-190,"f":0.930},{"s":"e1","v":-186,"f":0.900},{"s":"e1","v":-183,"f":0.880},{"s":"e1","v":-180,"f":0.866},{"s":"e1","v":-176,"f":0.850},{"s":"e1","v":-171,"f":0.836},{"s":"e1","v":-167,"f":0.830},{"s":"e1","v":-164,"f":0.823},{"s":"e1","v":-160,"f":0.815},{"s":"e1","v":-156,"f":0.807},{"s":"e1","v":-150,"f":0.800},{"s":"e1","v":-145,"f":0.797},{"s":"e1","v":-141,"f":0.794},{"s":"e1","v":-136,"f":0.790},{"s":"e1","v":-132,"f":0.785},{"s":"e1","v":-128,"f":0.780},{"s":"e1","v":-124,"f":0.775},{"s":"e1","v":-120,"f":0.770},{"s":"e1","v":-117,"f":0.765},{"s":"e1","v":-113,"f":0.768},{"s":"e1","v":-109,"f":0.765},{"s":"e1","v":-106,"f":0.765},{"s":"e1","v":-102,"f":0.772},{"s":"e1","v":-99,"f":0.777},{"s":"e1","v":-95,"f":0.790},{"s":"e1","v":-90,"f":0.803},{"s":"e1","v":-86,"f":0.797},{"s":"e1","v":-82,"f":0.793},{"s":"e1","v":-78,"f":0.789},{"s":"e1","v":-74,"f":0.785},{"s":"e1","v":-69,"f":0.780},{"s":"e1","v":-64,"f":0.778},{"s":"e1","v":-60,"f":0.777},{"s":"e1","v":-55,"f":0.775},{"s":"e1","v":-50,"f":0.774},{"s":"e1","v":-45,"f":0.778},{"s":"e1","v":-41,"f":0.780},{"s":"e1","v":-36,"f":0.778},{"s":"e1","v":-32,"f":0.777},{"s":"e1","v":-27,"f":0.776},{"s":"e1","v":-23,"f":0.777},{"s":"e1","v":-18,"f":0.778},{"s":"e1","v":-14,"f":0.777},{"s":"e1","v":-9,"f":0.779},{"s":"e1","v":-4,"f":0.780},{"s":"e1","v":1,"f":0.780},{"s":"e1","v":5,"f":0.780},{"s":"e1","v":9,"f":0.775},{"s":"e1","v":13,"f":0.768},{"s":"e1","v":16,"f":0.764},{"s":"e1","v":19,"f":0.760},{"s":"e1","v":23,"f":0.761},{"s":"e1","v":28,"f":0.764},{"s":"e1","v":33,"f":0.777},{"s":"e1","v":37,"f":0.791},{"s":"e1","v":41,"f":0.808},{"s":"e1","v":45,"f":0.830},{"s":"e1","v":49,"f":0.850},{"s":"e1","v":53,"f":0.875},{"s":"e1","v":57,"f":0.900},{"s":"e1","v":61,"f":0.925},{"s":"e1","v":65,"f":0.950},{"s":"e1","v":69,"f":0.975},{"s":"e1","v":73,"f":0.995},{"s":"e1","v":78,"f":1.010},{"s":"e1","v":83,"f":1.020},{"s":"e1","v":88,"f":1.025},{"s":"e1","v":93,"f":1.022},
{"s":"e1","v":96,"f":1.026},{"s":"e1","v":100,"f":1.016},{"s":"e1","v":104,"f":1.024},{"s":"e1","v":108,"f":1.038},{"s":"e1","v":112,"f":1.016},{"s":"e1","v":116,"f":1.028},{"s":"e1","v":120,"f":1.008},{"s":"e1","v":124,"f":1.026},{"s":"e1","v":128,"f":1.020},{"s":"e1","v":132,"f":1.012},{"s":"e1","v":136,"f":1.034},{"s":"e1","v":140,"f":1.018},{"s":"e1","v":144,"f":1.010},{"s":"e1","v":148,"f":1.028},{"s":"e1","v":152,"f":1.016},{"s":"e1","v":156,"f":1.026},{"s":"e1","v":160,"f":1.006},{"s":"e1","v":164,"f":1.022},{"s":"e1","v":168,"f":1.030},{"s":"e1","v":172,"f":1.014},{"s":"e1","v":176,"f":1.020},
{"s":"e2","v":-222,"f":1.005},{"s":"e2","v":-219,"f":1.024},{"s":"e2","v":-215,"f":0.996},{"s":"e2","v":-211,"f":1.014},{"s":"e2","v":-207,"f":1.002},{"s":"e2","v":-203,"f":1.020},{"s":"e2","v":-198,"f":0.990},{"s":"e2","v":-193,"f":0.970},{"s":"e2","v":-189,"f":0.940},{"s":"e2","v":-185,"f":0.900},{"s":"e2","v":-181,"f":0.875},{"s":"e2","v":-178,"f":0.863},{"s":"e2","v":-175,"f":0.863},{"s":"e2","v":-171,"f":0.866},{"s":"e2","v":-167,"f":0.860},{"s":"e2","v":-164,"f":0.849},{"s":"e2","v":-160,"f":0.847},{"s":"e2","v":-155,"f":0.846},{"s":"e2","v":-150,"f":0.847},{"s":"e2","v":-146,"f":0.846},{"s":"e2","v":-143,"f":0.838},{"s":"e2","v":-138,"f":0.835},{"s":"e2","v":-132,"f":0.829},{"s":"e2","v":-127,"f":0.822},{"s":"e2","v":-123,"f":0.818},{"s":"e2","v":-118,"f":0.815},{"s":"e2","v":-113,"f":0.814},{"s":"e2","v":-108,"f":0.813},{"s":"e2","v":-104,"f":0.812},{"s":"e2","v":-99,"f":0.812},{"s":"e2","v":-95,"f":0.814},{"s":"e2","v":-90,"f":0.829},{"s":"e2","v":-86,"f":0.830},{"s":"e2","v":-82,"f":0.821},{"s":"e2","v":-78,"f":0.815},{"s":"e2","v":-74,"f":0.812},{"s":"e2","v":-70,"f":0.806},{"s":"e2","v":-66,"f":0.800},{"s":"e2","v":-62,"f":0.795},{"s":"e2","v":-58,"f":0.790},{"s":"e2","v":-54,"f":0.790},{"s":"e2","v":-50,"f":0.785},{"s":"e2","v":-46,"f":0.780},{"s":"e2","v":-42,"f":0.780},{"s":"e2","v":-38,"f":0.785},{"s":"e2","v":-34,"f":0.785},{"s":"e2","v":-30,"f":0.790},{"s":"e2","v":-26,"f":0.795},{"s":"e2","v":-22,"f":0.800},{"s":"e2","v":-18,"f":0.810},{"s":"e2","v":-14,"f":0.820},{"s":"e2","v":-10,"f":0.830},{"s":"e2","v":-6,"f":0.840},{"s":"e2","v":-2,"f":0.855},{"s":"e2","v":3,"f":0.875},{"s":"e2","v":8,"f":0.895},{"s":"e2","v":13,"f":0.920},{"s":"e2","v":18,"f":0.945},{"s":"e2","v":23,"f":0.965},{"s":"e2","v":28,"f":0.985},{"s":"e2","v":33,"f":1.000},{"s":"e2","v":38,"f":1.015},{"s":"e2","v":43,"f":1.030},{"s":"e2","v":48,"f":1.040},{"s":"e2","v":53,"f":1.045},{"s":"e2","v":58,"f":1.050},{"s":"e2","v":63,"f":1.045},{"s":"e2","v":68,"f":1.040},{"s":"e2","v":73,"f":1.035},{"s":"e2","v":78,"f":1.030},{"s":"e2","v":83,"f":1.028},{"s":"e2","v":88,"f":1.025},{"s":"e2","v":93,"f":1.030},
{"s":"e2","v":97,"f":1.022},{"s":"e2","v":101,"f":1.032},{"s":"e2","v":105,"f":1.016},{"s":"e2","v":109,"f":1.010},{"s":"e2","v":113,"f":1.030},{"s":"e2","v":117,"f":1.020},{"s":"e2","v":121,"f":1.036},{"s":"e2","v":125,"f":1.014},{"s":"e2","v":129,"f":1.022},{"s":"e2","v":133,"f":1.030},{"s":"e2","v":137,"f":1.016},{"s":"e2","v":141,"f":1.008},{"s":"e2","v":145,"f":1.026},{"s":"e2","v":149,"f":1.020},{"s":"e2","v":153,"f":1.032},{"s":"e2","v":157,"f":1.012},{"s":"e2","v":161,"f":1.024},{"s":"e2","v":165,"f":1.014},{"s":"e2","v":169,"f":1.030},{"s":"e2","v":173,"f":1.018},{"s":"e2","v":177,"f":1.020},
{"s":"e3","v":-222,"f":1.010},{"s":"e3","v":-218,"f":0.994},{"s":"e3","v":-214,"f":1.022},{"s":"e3","v":-210,"f":1.004},{"s":"e3","v":-206,"f":1.016},{"s":"e3","v":-202,"f":0.992},{"s":"e3","v":-198,"f":1.005},{"s":"e3","v":-193,"f":0.985},{"s":"e3","v":-189,"f":0.950},{"s":"e3","v":-185,"f":0.910},{"s":"e3","v":-181,"f":0.886},{"s":"e3","v":-176,"f":0.877},{"s":"e3","v":-171,"f":0.865},{"s":"e3","v":-167,"f":0.862},{"s":"e3","v":-164,"f":0.872},{"s":"e3","v":-161,"f":0.890},{"s":"e3","v":-157,"f":0.916},{"s":"e3","v":-152,"f":0.906},{"s":"e3","v":-148,"f":0.912},{"s":"e3","v":-144,"f":0.918},{"s":"e3","v":-140,"f":0.925},{"s":"e3","v":-136,"f":0.915},{"s":"e3","v":-132,"f":0.909},{"s":"e3","v":-128,"f":0.895},{"s":"e3","v":-124,"f":0.899},{"s":"e3","v":-118,"f":0.892},{"s":"e3","v":-113,"f":0.894},{"s":"e3","v":-108,"f":0.895},{"s":"e3","v":-104,"f":0.889},{"s":"e3","v":-100,"f":0.892},{"s":"e3","v":-94,"f":0.885},{"s":"e3","v":-90,"f":0.889},{"s":"e3","v":-86,"f":0.886},{"s":"e3","v":-82,"f":0.875},{"s":"e3","v":-78,"f":0.862},{"s":"e3","v":-74,"f":0.850},{"s":"e3","v":-70,"f":0.840},{"s":"e3","v":-66,"f":0.830},{"s":"e3","v":-62,"f":0.820},{"s":"e3","v":-58,"f":0.810},{"s":"e3","v":-54,"f":0.800},{"s":"e3","v":-50,"f":0.795},{"s":"e3","v":-46,"f":0.790},{"s":"e3","v":-42,"f":0.785},{"s":"e3","v":-38,"f":0.782},{"s":"e3","v":-34,"f":0.780},{"s":"e3","v":-30,"f":0.785},{"s":"e3","v":-26,"f":0.790},{"s":"e3","v":-22,"f":0.800},{"s":"e3","v":-18,"f":0.805},{"s":"e3","v":-14,"f":0.810},{"s":"e3","v":-10,"f":0.815},{"s":"e3","v":-6,"f":0.825},{"s":"e3","v":-2,"f":0.840},{"s":"e3","v":3,"f":0.860},{"s":"e3","v":8,"f":0.885},{"s":"e3","v":13,"f":0.910},{"s":"e3","v":18,"f":0.935},{"s":"e3","v":23,"f":0.960},{"s":"e3","v":28,"f":0.985},{"s":"e3","v":33,"f":1.005},{"s":"e3","v":38,"f":1.030},{"s":"e3","v":43,"f":1.050},{"s":"e3","v":48,"f":1.060},{"s":"e3","v":53,"f":1.070},{"s":"e3","v":58,"f":1.065},{"s":"e3","v":63,"f":1.055},{"s":"e3","v":68,"f":1.050},{"s":"e3","v":73,"f":1.040},{"s":"e3","v":78,"f":1.035},{"s":"e3","v":83,"f":1.030},{"s":"e3","v":88,"f":1.028},{"s":"e3","v":93,"f":1.030},
{"s":"e3","v":98,"f":1.030},{"s":"e3","v":102,"f":1.020},{"s":"e3","v":106,"f":1.014},{"s":"e3","v":110,"f":1.030},{"s":"e3","v":114,"f":1.036},{"s":"e3","v":118,"f":1.016},{"s":"e3","v":122,"f":1.026},{"s":"e3","v":126,"f":1.010},{"s":"e3","v":130,"f":1.030},{"s":"e3","v":134,"f":1.022},{"s":"e3","v":138,"f":1.012},{"s":"e3","v":142,"f":1.028},{"s":"e3","v":146,"f":1.018},{"s":"e3","v":150,"f":1.032},{"s":"e3","v":154,"f":1.010},{"s":"e3","v":158,"f":1.024},{"s":"e3","v":162,"f":1.034},{"s":"e3","v":166,"f":1.014},{"s":"e3","v":170,"f":1.026},{"s":"e3","v":174,"f":1.018},{"s":"e3","v":178,"f":1.024}
]},
"layer":[
{"data":{"name":"spec"},
 "mark":{"type":"line","interpolate":"step","strokeWidth":1.3,"color":"#000000","clip":true},
 "encoding":{
  "x":{"field":"v","type":"quantitative","scale":{"domain":[-222,172],"nice":false,"zero":false},
       "axis":{"orient":"bottom","values":[-200,-100,0,100],"tickSize":-22,"labelPadding":46,"labelBaseline":"top","title":"velocity [km/s]","titleX":709,"titleY":100,"titleAlign":"center","titleBaseline":"alphabetic"}},
  "y":{"field":"f","type":"quantitative","scale":{"domain":[0.287,1.2133],"nice":false,"zero":false},
       "axis":{"orient":"left","values":[0.4,0.6,0.8,1.0,1.2],"format":".1f","tickSize":-28,"labelPadding":50,"title":"normalized flux","titleX":-106,"titleY":537,"titleAngle":270,"titleAlign":"center","titleBaseline":"alphabetic"}},
  "strokeDash":{"field":"s","type":"nominal","legend":null,
       "scale":{"domain":["d1","d2","c3","c2","e1","e2","e3","p1","p2","p3","p4","p5","p6","p7","p8","p9","p10","p11","p12"],
                "range":[[1.5,4],[10,5,2,5],[10,7],[1,0],[10,5,2,5,2,5,2,5],[10,5,2,5],[10,5,2,5],[1,0],[10,7],[1.5,4],[10,5,2,5],[1,0],[1,0],[1,0],[10,7],[1.5,4],[10,7],[1,0],[1,0]]}}
 }},
{"data":{"values":[{"label":"<-- Absorption Event"}]},
 "mark":{"type":"text","align":"center","baseline":"middle","fontSize":43,"font":"DejaVu Sans","fontWeight":200,"color":"#000000"},
 "encoding":{
  "text":{"field":"label","type":"nominal"},
  "x":{"datum":15,"type":"quantitative","axis":{"orient":"bottom","values":[-220,-210,-190,-180,-170,-160,-150,-140,-130,-120,-110,-90,-80,-70,-60,-50,-40,-30,-20,-10,10,20,30,40,50,60,70,80,90,110,120,130,140,150,160,170],"tickSize":-10,"labels":false,"domain":false,"title":null}},
  "y":{"datum":0.51,"type":"quantitative","axis":{"orient":"left","values":[0.3,0.35,0.45,0.5,0.55,0.65,0.7,0.75,0.85,0.9,0.95,1.05,1.1,1.15],"tickSize":-14,"labels":false,"domain":false,"title":null}}
 }},
{"data":{"values":[{"k":1}]},
 "mark":{"type":"point","opacity":0},
 "encoding":{
  "x":{"datum":0,"type":"quantitative","axis":{"orient":"top","values":[-200,-100,0,100],"tickSize":-22,"labels":false,"title":null}},
  "y":{"datum":1,"type":"quantitative","axis":{"orient":"right","values":[0.4,0.6,0.8,1.0,1.2],"tickSize":-28,"labels":false,"title":null}}
 }},
{"data":{"values":[{"k":1}]},
 "mark":{"type":"point","opacity":0},
 "encoding":{
  "x":{"datum":0,"type":"quantitative","axis":{"orient":"top","values":[-220,-210,-190,-180,-170,-160,-150,-140,-130,-120,-110,-90,-80,-70,-60,-50,-40,-30,-20,-10,10,20,30,40,50,60,70,80,90,110,120,130,140,150,160,170],"tickSize":-10,"labels":false,"domain":false,"title":null}},
  "y":{"datum":1,"type":"quantitative","axis":{"orient":"right","values":[0.3,0.35,0.45,0.5,0.55,0.65,0.7,0.75,0.85,0.9,0.95,1.05,1.1,1.15],"tickSize":-14,"labels":false,"domain":false,"title":null}}
 }}
],
"resolve":{"axis":{"x":"independent","y":"independent"}}
}
